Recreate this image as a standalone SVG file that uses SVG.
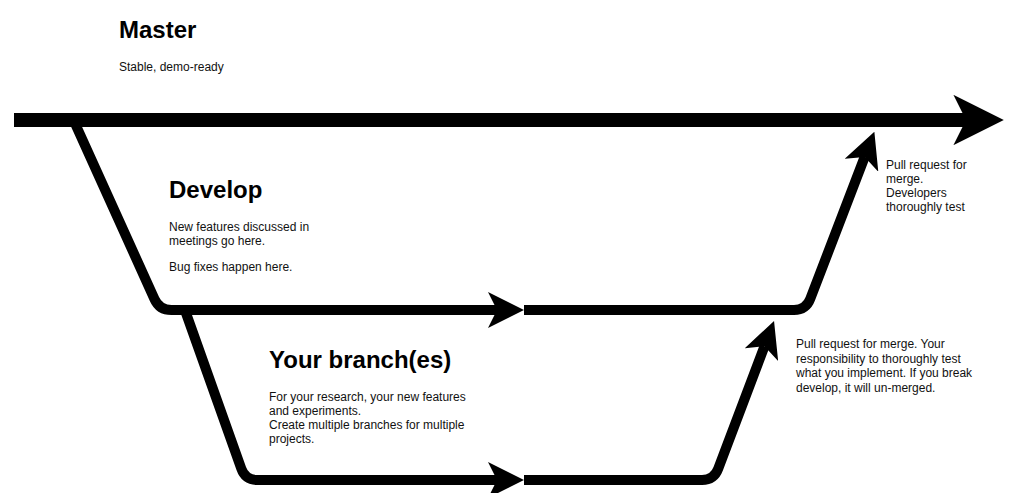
<svg xmlns="http://www.w3.org/2000/svg" width="1019" height="493" viewBox="0 0 1019 493">
  <style>
    .title { font-family: "Liberation Sans", Arial, sans-serif; font-size: 24px; font-weight: bold; fill: #000; }
    .body { font-family: "Liberation Sans", Arial, sans-serif; font-size: 12px; fill: #111; }
    .line { fill: none; stroke: #000; stroke-linecap: butt; stroke-linejoin: round; }
  </style>
  <defs>
    <marker id="arrow" viewBox="0 0 36 36" markerUnits="strokeWidth" markerWidth="3.6" markerHeight="3.6" refX="9" refY="18" orient="auto">
      <path d="M0,0 L36,18 L0,36 L9,18 Z" fill="#000"/>
    </marker>
  </defs>
  <rect width="1019" height="493" fill="#fff"/>

  <g id="connectors">
    <path id="master-line" class="line" stroke-width="14" d="M14,120 L966,120" marker-end="url(#arrow)"/>
    <path id="develop-in" class="line" stroke-width="10" d="M73.5,120 L154.5,299.1 Q159.4,310 171.4,310 L497,310" marker-end="url(#arrow)"/>
    <path id="develop-merge" class="line" stroke-width="10" d="M524,310 L794,310 Q806,310 810.3,298.8 L864.7,156.9" marker-end="url(#arrow)"/>
    <path id="branch-in" class="line" stroke-width="10" d="M184.9,310 L241.3,468.7 Q245.3,480 257.3,480 L497,480" marker-end="url(#arrow)"/>
    <path id="branch-merge" class="line" stroke-width="10" d="M524,480 L702,480 Q714,480 718.2,468.8 L764.5,346.3" marker-end="url(#arrow)"/>
  </g>

  <g id="master">
    <text class="title" x="119" y="38">Master</text>
    <text class="body" x="119" y="71">Stable, demo-ready</text>
  </g>

  <g id="develop">
    <text class="title" x="169" y="198">Develop</text>
    <text class="body" x="169" y="231">New features discussed in</text>
    <text class="body" x="169" y="245">meetings go here.</text>
    <text class="body" x="169" y="271">Bug fixes happen here.</text>
  </g>

  <g id="branches">
    <text class="title" x="269" y="368">Your branch(es)</text>
    <text class="body" x="269" y="401">For your research, your new features</text>
    <text class="body" x="269" y="415">and experiments.</text>
    <text class="body" x="269" y="429">Create multiple branches for multiple</text>
    <text class="body" x="269" y="443">projects.</text>
  </g>

  <g id="note-master-merge">
    <text class="body" x="886" y="169">Pull request for</text>
    <text class="body" x="886" y="183">merge.</text>
    <text class="body" x="886" y="197">Developers</text>
    <text class="body" x="886" y="211">thoroughly test</text>
  </g>

  <g id="note-develop-merge">
    <text class="body" x="796" y="348">Pull request for merge. Your</text>
    <text class="body" x="796" y="362.5">responsibility to thoroughly test</text>
    <text class="body" x="796" y="377">what you implement. If you break</text>
    <text class="body" x="796" y="391.5">develop, it will un-merged.</text>
  </g>
</svg>
